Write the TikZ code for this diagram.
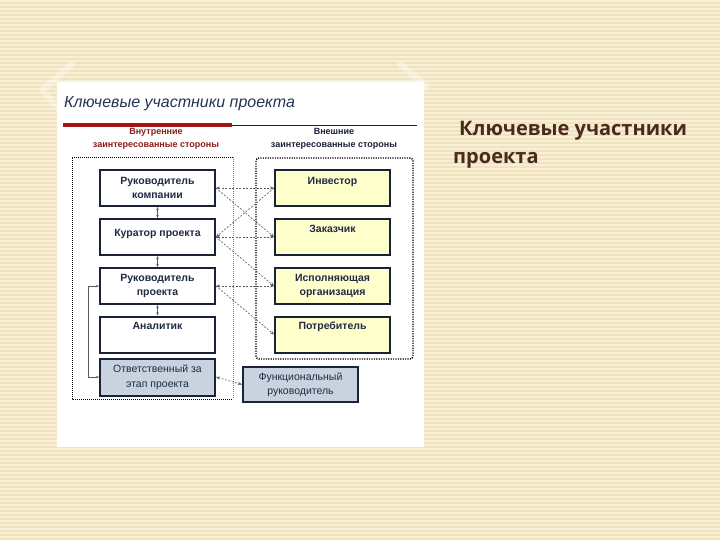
\documentclass[tikz,border=0pt]{standalone}
\usepackage{fontspec}
\setmainfont{Liberation Sans}
\newfontfamily\rightfont{Open Sans}
\usetikzlibrary{arrows.meta}
\definecolor{bgA}{HTML}{F8F0D6}
\definecolor{bgB}{HTML}{F0E3BE}
\definecolor{navy}{HTML}{1A2238}
\definecolor{txt}{HTML}{1F2A44}
\definecolor{lyel}{HTML}{FFFFCC}
\definecolor{gblue}{HTML}{C9D3E0}
\definecolor{arrc}{HTML}{555A66}
\definecolor{dred}{HTML}{8E1B1B}
\definecolor{lred}{HTML}{A31515}
\definecolor{brown}{HTML}{4A2A1C}
\definecolor{ttl}{HTML}{243554}
\tikzset{
  lbox/.style={draw=navy, line width=2pt, fill=white, minimum width=115pt,
    minimum height=36pt, inner sep=1pt, align=center,
    font=\bfseries\fontsize{10.5}{14.5}\selectfont, text=txt},
  rbox/.style={lbox, fill=lyel},
  gbox/.style={lbox, fill=gblue, font=\fontsize{10.5}{14.5}\selectfont},
  sh/.style={text height=8pt, text depth=#1},
  con/.style={draw=arrc, line width=0.6pt, dash pattern=on 2pt off 1.5pt,
    -{Stealth[length=4pt,width=3pt]}},
  dcon/.style={con, {Stealth[length=4pt,width=3pt]}-{Stealth[length=4pt,width=3pt]}},
  vcon/.style={draw=arrc, line width=0.6pt,
    {Stealth[length=3pt,width=2.5pt]}-{Stealth[length=3pt,width=2.5pt]}},
  hdr/.style={font=\bfseries\fontsize{9}{13}\selectfont, align=center, inner sep=0pt},
}
\begin{document}
\begin{tikzpicture}[x=1pt,y=-1pt]
\useasboundingbox (0,0) rectangle (720,540);
% background stripes
\fill[bgB] (0,0) rectangle (720,540);
\foreach \i in {0,...,134} { \fill[bgA] (0,4*\i) rectangle (720,4*\i+2); }
% faint decorative corners
\draw[white, opacity=0.35, line width=6pt, line cap=round, line join=round]
  (72,64) -- (42,90) -- (58,108);
\draw[white, opacity=0.35, line width=6pt, line cap=round, line join=round]
  (400,64) -- (426,86) -- (412,100);
% white panel
\fill[white] (57,82) rectangle (424,447);
% title
\node[anchor=base west, inner sep=0pt, text=ttl,
  font=\itshape\fontsize{16}{19}\selectfont] (title) at (64,108) {Ключевые участники проекта};
\fill[lred] (63,123) rectangle (232,127);
\draw[navy, line width=0.8pt] (232,125.5) -- (417,125.5);
% headers
\node[hdr, text=dred, anchor=north] (hin) at (156,128) {Внутренние\\заинтересованные стороны};
\node[hdr, text=navy, anchor=north] (hout) at (334,128) {Внешние\\заинтересованные стороны};
% frames
\draw[black, line width=0.8pt, dash pattern=on 1pt off 1pt] (233,157) -- (72,157) -- (72,399) -- (233,399);
\draw[red!70!white, line width=0.8pt, dash pattern=on 1pt off 1pt] (233,157) -- (233,399);
\draw[black, line width=1.4pt, dash pattern=on 1.2pt off 1.2pt, rounded corners=3pt]
  (256,158) rectangle (413,359);
% left boxes
\node[lbox] (rk) at (157.5,188) {Руководитель\\компании};
\node[lbox, sh=8.8pt] (kur) at (157.5,237) {Куратор проекта};
\node[lbox] (rp) at (157.5,286) {Руководитель\\проекта};
\node[lbox, sh=17.8pt] (an) at (157.5,334.5) {Аналитик};
\node[gbox, minimum height=37pt] (otv) at (157.5,377) {Ответственный за\\этап проекта};
% right boxes
\node[rbox, sh=14.8pt] (inv) at (332.5,188) {Инвестор};
\node[rbox, sh=16.8pt] (zak) at (332.5,237) {Заказчик};
\node[rbox] (isp) at (332.5,286) {Исполняющая\\организация};
\node[rbox, sh=17.8pt] (pot) at (332.5,334.5) {Потребитель};
\node[gbox, minimum height=35pt] (fun) at (300.5,384.5) {Функциональный\\руководитель};
% vertical links
\draw[vcon] (rk.south) -- (kur.north);
\draw[vcon] (kur.south) -- (rp.north);
\draw[vcon] (rp.south) -- (an.north);
% feedback loop
\draw[vcon, line width=0.7pt] (rp.west) -- ++(-11,0) |- (otv.west);
% dashed links
\draw[dcon] (rk.east) -- (inv.west);
\draw[con] (rk.east) -- (zak.west);
\draw[con] (inv.west) -- (kur.east);
\draw[dcon] (kur.east) -- (zak.west);
\draw[con] (kur.east) -- (isp.west);
\draw[dcon] (rp.east) -- (isp.west);
\draw[con] (rp.east) -- (pot.west);
\draw[dcon] (otv.east) -- (fun.west);
% right text
\node[anchor=base west, inner sep=0pt, text=brown, font=\rightfont\bfseries\fontsize{20}{25}\selectfont]
  (rt1) at (459,136) {Ключевые участники};
\node[anchor=base west, inner sep=0pt, text=brown, font=\rightfont\bfseries\fontsize{20}{25}\selectfont]
  (rt2) at (453,164) {проекта};
\end{tikzpicture}
\end{document}
